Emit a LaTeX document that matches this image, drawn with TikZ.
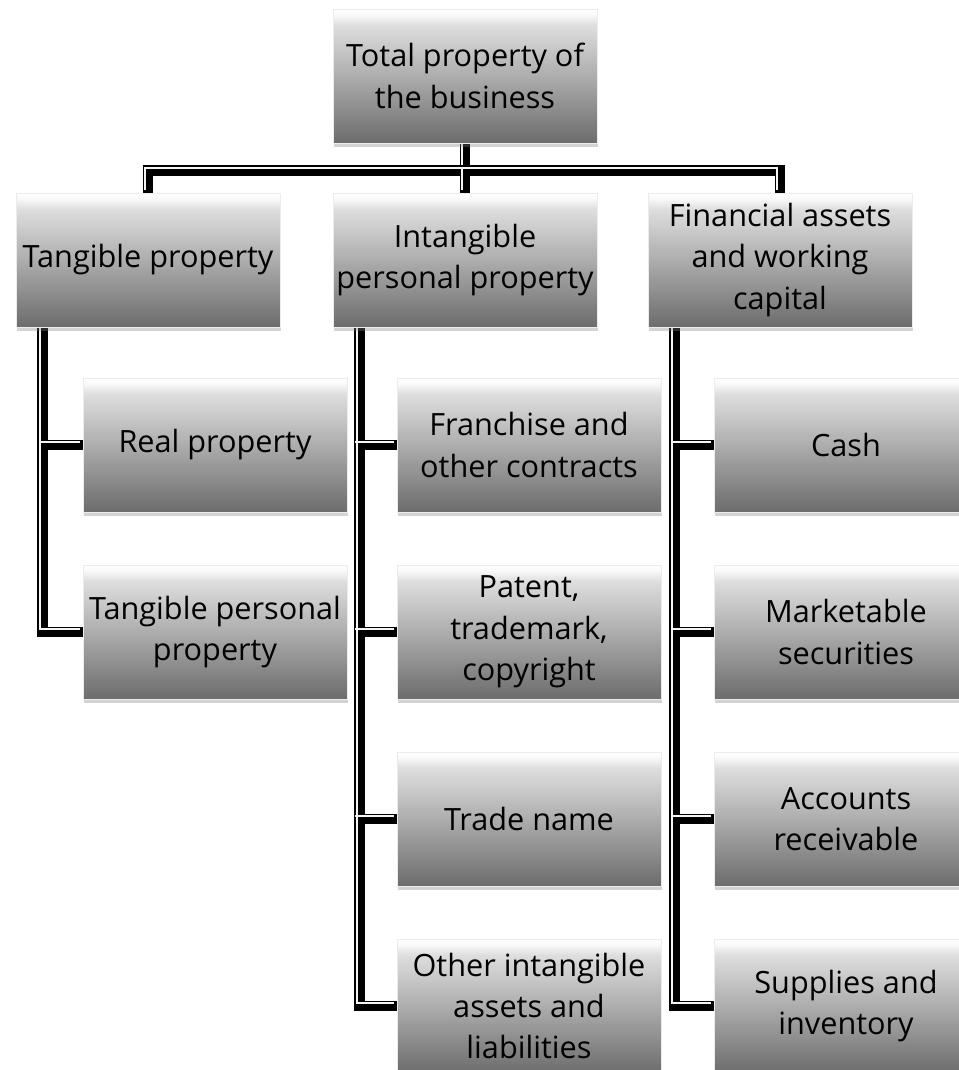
\documentclass[tikz,border=0pt]{standalone}
\usepackage{fontspec}
\usetikzlibrary{shadows,backgrounds}
\newfontfamily\boxfont{Open Sans}
\definecolor{boxtop}{HTML}{DEDEDE}
\definecolor{boxbot}{HTML}{6C6C6C}
\pgfdeclareverticalshading{boxshade}{100bp}{color(0bp)=(boxbot); color(25bp)=(boxbot);
  color(69bp)=(boxtop); color(73bp)=(white!96!gray); color(75bp)=(white); color(100bp)=(white)}
\tikzset{
  propbox/.style={rectangle, shade, shading=boxshade, draw=white!85!gray, line width=0.5pt,
    minimum width=198pt, minimum height=100.5pt, inner sep=0pt, align=center,
    font=\boxfont\fontsize{23pt}{31pt}\selectfont,
    drop shadow={opacity=0.35, shadow xshift=1pt, shadow yshift=-3pt}},
  pipe/.style={draw=black, line width=8pt,
    postaction={draw=white!92!gray, line width=1.4pt, transform canvas={shift={(-2pt,2pt)}}}}
}
\begin{document}
\begin{tikzpicture}[x=0.75pt,y=-0.75pt]
  \useasboundingbox (0,0) rectangle (959,1070);
  \clip (0,0) rectangle (959,1070);
  % top
  \node[propbox] (total) at (465,76) {Total property of\\the business};
  % second row
  \node[propbox] (tang) at (148,260) {Tangible property};
  \node[propbox] (intang) at (465,260) {Intangible\\personal property};
  \node[propbox] (fin) at (780,260) {Financial assets\\and working\\capital};
  % tangible
  \node[propbox] (real) at (215,445) {Real property};
  \node[propbox] (tpers) at (215,632) {Tangible personal\\property};
  % intangible
  \node[propbox] (franch) at (529,445) {Franchise and\\other contracts};
  \node[propbox] (patent) at (529,632) {Patent,\\trademark,\\copyright};
  \node[propbox] (trade) at (529,819) {Trade name};
  \node[propbox] (other) at (529,1006) {Other intangible\\assets and\\liabilities};
  % financial
  \node[propbox] (cash) at (846,445) {Cash};
  \node[propbox] (market) at (846,632) {Marketable\\securities};
  \node[propbox] (recv) at (846,819) {Accounts\\receivable};
  \node[propbox] (supp) at (846,1006) {Supplies and\\inventory};
  \begin{scope}[on background layer]
    \draw[pipe] (total.south) -- ++(0,27) coordinate (bus);
    \draw[pipe] (tang.north) |- (bus) -| (fin.north);
    \draw[pipe] (bus) -- (intang.north);
    \draw[pipe] ([xshift=20pt]tang.south west) |- (tpers.west);
    \draw[pipe] ([xshift=20pt]intang.south west) |- (other.west);
    \draw[pipe] ([xshift=20pt]fin.south west) |- (supp.west);
    \foreach \n in {real,franch,patent,trade,cash,market,recv}
      \draw[pipe] (\n.west) -- ++(-39,0);
  \end{scope}
\end{tikzpicture}
\end{document}
